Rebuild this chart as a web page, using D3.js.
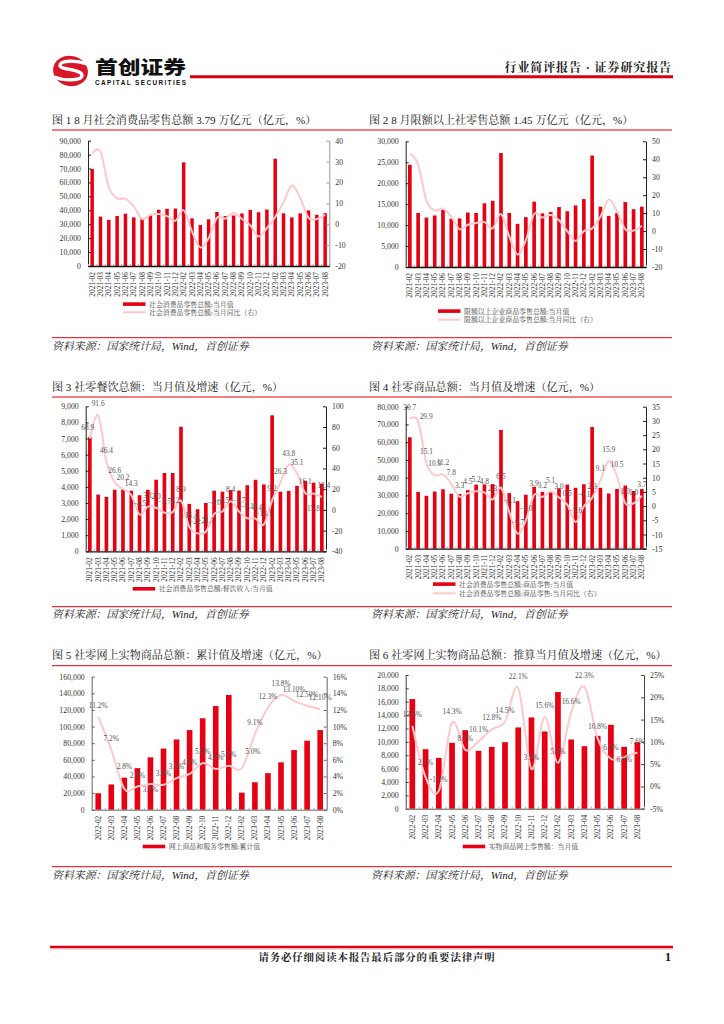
<!DOCTYPE html>
<html><head><meta charset="utf-8">
<script src="https://cdnjs.cloudflare.com/ajax/libs/d3/7.8.5/d3.min.js"></script>
<style>
html,body{margin:0;padding:0;background:#fff}
svg{display:block}
text{font-family:"Liberation Serif","Noto Serif CJK SC","Noto Sans CJK SC",serif}
</style></head><body>
<svg id="page" width="724" height="1024"></svg>
<script>
// ---------- categories ----------
const months29 = ["2021-02","2021-03","2021-04","2021-05","2021-06","2021-07","2021-08","2021-09","2021-10","2021-11","2021-12",
  "2022-02","2022-03","2022-04","2022-05","2022-06","2022-07","2022-08","2022-09","2022-10","2022-11","2022-12",
  "2023-02","2023-03","2023-04","2023-05","2023-06","2023-07","2023-08"];
const months18 = ["2022-02","2022-03","2022-04","2022-05","2022-06","2022-07","2022-08","2022-09","2022-10","2022-11","2022-12",
  "2023-02","2023-03","2023-04","2023-05","2023-06","2023-07","2023-08"];
// ---------- series ----------
const retailValue = [69737,35484,33153,35945,37586,34925,34395,36833,40454,41043,41269,74426,34233,29483,33547,38802,35870,36258,37745,40271,38615,40542,77067,37855,34910,37803,39951,36761,37933];
const retailYoY = [33.8,34.9,17.7,12.4,12.1,8.5,2.5,4.4,4.9,3.9,1.7,6.7,-3.5,-11.1,-6.7,3.1,2.7,5.4,2.5,-0.5,-5.9,-1.8,3.5,10.6,18.4,12.7,3.1,2.5,4.6];
const aboveValue = [24400,12900,11800,12300,13600,11500,11600,13000,12900,15200,15800,27200,12900,10300,11900,15600,12800,13100,14300,13300,14700,16200,26600,14400,12200,12900,15500,13800,14400];
const aboveYoY = [43,37,17,11.5,12.5,8,1,3.5,4.5,5,1.5,9.5,-3,-13,-5,9.5,7.5,9,6,0,-5.5,0,1.5,8,17.5,11,1,0.3,3];
const cateringValue = [7080,3520,3380,3820,3840,3760,3480,3820,4440,4860,4860,7730,2940,2610,3000,3760,3700,3800,3770,4100,4440,4150,8440,3700,3750,4060,4370,4260,4200];
const cateringYoY = [68.9,91.6,46.4,26.6,20.2,14.3,-4.5,3.1,2.0,-2.7,-2.2,8.9,-16.4,-22.7,-21.1,-4.0,-1.5,8.4,-1.7,-8.1,-8.4,-14.1,9.2,26.3,43.8,35.1,16.1,15.8,12.4];
const goodsValue = [62800,32000,29800,32200,33500,31000,30800,33000,36100,36200,36400,66900,31300,26800,30400,34900,32000,32500,34000,36100,34300,36300,68600,34300,31100,33700,35600,32500,33600];
const goodsYoY = [30.7,29.9,15.1,10.9,11.2,7.8,3.3,4.5,5.2,4.8,2.3,6.5,-2.1,-9.7,-5.0,3.9,3.2,5.1,3.0,0.5,-5.6,-0.1,2.9,9.1,15.9,10.5,1.0,1.0,3.7];
const onlineCum = [19800,30400,38500,50000,63000,73500,84500,95800,110000,124700,138000,20500,33000,44000,57000,71800,83000,95800];
const onlineCumYoY = [11.2,7.2,2.5,2.8,3.1,3.0,3.8,4.3,5.6,4.9,5.3,5.0,9.1,12.3,13.8,13.1,12.5,12.1];
const onlineCumLabels = ["11.2%","7.2%","2.8%","2.8%","3.1%","3.0%","3.8%","4.3%","5.6%","4.9%","5.3%","5.0%","9.1%","12.3%","13.8%","13.10%","12.50%","12.10%"];
const onlineMonth = [16400,8900,7600,9850,11750,8650,9250,9950,12150,13650,11550,17450,10350,9350,10900,12550,9250,9950];
const onlineMonthYoY = [13.6,2.1,-1.0,14.3,8.2,10.1,12.8,14.5,22.1,3.9,15.6,5.3,16.6,22.3,10.8,6.2,6.6,7.6];
const onlineMonthLabels = ["13.6%","2.1%","-1.0%","14.3%","8.2%","10.1%","12.8%","14.5%","22.1%","3.9%","15.6%","5.3%","16.6%","22.3%","10.8%","6.2%","6.6%","7.6%"];
// ---------- ticks ----------
const ticksL1 = d3.range(0,90001,10000), ticksR1 = d3.range(-20,41,10);
const ticksL2 = d3.range(0,30001,5000),  ticksR2 = d3.range(-20,51,10);
const ticksL3 = d3.range(0,9001,1000),   ticksR3 = d3.range(-40,101,20);
const ticksL4 = d3.range(0,80001,10000), ticksR4 = d3.range(-15,36,5);
const ticksL5 = d3.range(0,160001,20000),ticksR5 = d3.range(0,17,2);
const ticksL6 = d3.range(0,20001,2000),  ticksR6 = d3.range(-5,26,5);
// ---------- text ----------
const titles = ["图 1 8 月社会消费品零售总额 3.79 万亿元（亿元，%）","图 2 8 月限额以上社零售总额 1.45 万亿元（亿元，%）",
  "图 3 社零餐饮总额：当月值及增速（亿元，%）","图 4  社零商品总额：当月值及增速（亿元，%）",
  "图 5 社零网上实物商品总额：累计值及增速（亿元，%）","图 6 社零网上实物商品总额：推算当月值及增速（亿元，%）"];
const sourceText = "资料来源：国家统计局，Wind，首创证券";

const RED = "#e60012", PINK = "#ffc8cb", DARK = "#333";
const svg = d3.select("#page");
const fmt = d3.format(",");

// label nudges (chart index -> point index -> [dx,dy] from default placement)
const nudges = {
  2:{0:[-2,0],27:[0,26],28:[2,0]},
  3:{1:[8,7],27:[0,1]},
  4:{2:[0,-11],4:[0,17],11:[11,-5]},
  5:{1:[0,-3],16:[0,14]}
};
const fmtFixed = v => d3.format(".1f")(v);

function chart(o){
  const g = svg.append("g");
  const x = d3.scaleBand().domain(o.cats).range([o.l,o.r]).paddingInner(o.pad).paddingOuter(o.pad/2);
  const yL = d3.scaleLinear().domain(d3.extent(o.tL)).range([o.b,o.t]);
  const yR = d3.scaleLinear().domain(d3.extent(o.tR)).range([o.b,o.t]);
  // bars
  g.append("g").selectAll("rect").data(o.vals).join("rect")
    .attr("x",(d,i)=>x(o.cats[i])).attr("width",x.bandwidth())
    .attr("y",d=>yL(d)).attr("height",d=>o.b-yL(d)).attr("fill",RED);
  // line
  const line = d3.line().x((d,i)=>x(o.cats[i])+x.bandwidth()/2).y(d=>yR(d)).curve(d3.curveCardinal.tension(0));
  g.append("path").attr("d",line(o.yoy)).attr("fill","none").attr("stroke",PINK).attr("stroke-width",2);
  // axes
  const axC = o.axisColor||"#222";
  const yAxisL = d3.axisLeft(yL).tickValues(o.tL).tickSizeInner(-3).tickSizeOuter(0).tickPadding(7).tickFormat(fmt);
  const yAxisR = d3.axisRight(yR).tickValues(o.tR).tickSizeInner(-3).tickSizeOuter(0).tickPadding(6).tickFormat(o.rf||(d=>d));
  const aL = g.append("g").attr("transform",`translate(${o.l},0)`).call(yAxisL);
  const aR = g.append("g").attr("transform",`translate(${o.r},0)`).call(yAxisR);
  [aL,aR].forEach(a=>{
    a.selectAll("path,line").attr("stroke",o.rightGray&&a===aR?"#999":axC);
    a.selectAll("text").attr("font-size",7.8).attr("fill",DARK);
  });
  const xb = g.append("g").attr("transform",`translate(0,${o.b})`)
    .call(d3.axisBottom(x).tickSize(0).tickPadding(5));
  xb.select(".domain").remove();
  xb.selectAll("text").attr("font-size",7.4).attr("fill",DARK)
    .attr("text-anchor","end").attr("dy",null)
    .attr("transform","translate(2.5,6) rotate(-90)").attr("x",0).attr("y",0);
  const xBound = d3.scaleLinear().domain([0,o.cats.length]).range([o.l,o.r]);
  const xt = g.append("g").attr("transform",`translate(0,${o.b})`)
    .call(d3.axisBottom(xBound).tickValues(d3.range(o.cats.length+1)).tickSizeInner(-2).tickSizeOuter(0).tickFormat(""));
  xt.select(".domain").attr("stroke",o.xColor||"#111").attr("stroke-width",o.xWidth||1.3);
  xt.selectAll("line").attr("stroke","#aaa");
  // data labels
  if(o.labels){
    const n = nudges[o.idx]||{};
    g.append("g").selectAll("text").data(o.labels).join("text")
      .attr("x",(d,i)=>x(o.cats[i])+x.bandwidth()/2+((n[i]||[0,0])[0]))
      .attr("y",(d,i)=>yR(o.yoy[i])-11.5+((n[i]||[0,0])[1]))
      .attr("dy","0.35em").attr("text-anchor","middle")
      .attr("font-size",7.4).attr("fill","#555").text(d=>d);
  }
  // legend
  const lg = g.append("g");
  o.legend.forEach((t,i)=>{
    const yy = o.legY+i*o.legGap;
    if(i===0) lg.append("rect").attr("x",o.legX).attr("y",yy-2).attr("width",22.5).attr("height",3.6).attr("fill",RED);
    else lg.append("line").attr("x1",o.legX).attr("x2",o.legX+22.5).attr("y1",yy).attr("y2",yy).attr("stroke",PINK).attr("stroke-width",2);
    lg.append("text").attr("x",o.legX+26).attr("y",yy).attr("dy","0.35em").attr("font-size",6.9).attr("fill","#444").text(t);
  });
}

const pc = d=>d+"%";
chart({idx:0,cats:months29,vals:retailValue,yoy:retailYoY,tL:ticksL1,tR:ticksR1,l:88,r:329.3,t:140.7,b:266,pad:0.58,rightGray:true,
  legend:["社会消费品零售总额:当月值","社会消费品零售总额:当月同比（右）"],legX:123,legY:304.3,legGap:8});
chart({idx:1,cats:months29,vals:aboveValue,yoy:aboveYoY,tL:ticksL2,tR:ticksR2,l:405.7,r:646,t:141.3,b:267,pad:0.56,
  legend:["限额以上企业商品零售总额:当月值","限额以上企业商品零售总额:当月同比（右）"],legX:438,legY:311.3,legGap:8.4});
chart({idx:2,cats:months29,vals:cateringValue,yoy:cateringYoY,tL:ticksL3,tR:ticksR3,l:85.7,r:326,t:406.3,b:551.3,pad:0.56,
  labels:cateringYoY.map(fmtFixed),legend:["社会消费品零售总额:餐饮收入:当月值"],legX:132.7,legY:589,legGap:8});
chart({idx:3,cats:months29,vals:goodsValue,yoy:goodsYoY,tL:ticksL4,tR:ticksR4,l:405.7,r:646,t:406.7,b:548.7,pad:0.56,
  labels:goodsYoY.map(fmtFixed),legend:["社会消费品零售总额:商品零售:当月值","社会消费品零售总额:商品零售:当月同比（右）"],legX:433,legY:584.3,legGap:9});
chart({idx:4,cats:months18,vals:onlineCum,yoy:onlineCumYoY,tL:ticksL5,tR:ticksR5,l:91.7,r:326.7,t:676.7,b:809.7,pad:0.57,rf:pc,axisColor:"#666",xColor:"#666",xWidth:1,
  labels:onlineCumLabels,legend:["网上商品和服务零售额:累计值"],legX:142.7,legY:846.7,legGap:8});
chart({idx:5,cats:months18,vals:onlineMonth,yoy:onlineMonthYoY,tL:ticksL6,tR:ticksR6,l:405.7,r:644,t:675,b:808.7,pad:0.57,rf:pc,axisColor:"#444",xColor:"#555",xWidth:1,
  labels:onlineMonthLabels,legend:["实物商品网上零售额：当月值"],legX:462.7,legY:846.7,legGap:8});

// ---------- page furniture ----------
function rule(x1,x2,y,w,c){svg.append("line").attr("x1",x1).attr("x2",x2).attr("y1",y).attr("y2",y).attr("stroke",c).attr("stroke-width",w);}
[130,397,665.7].forEach(y=>rule(52,672,y,1,RED));
[337.7,606.7,866.7].forEach(y=>rule(52,672,y,1,RED));
const titleX=[52,369,52,369,52,369], titleY=[120,120,387,387,655,655];
titles.forEach((t,i)=>svg.append("text").attr("x",titleX[i]).attr("y",titleY[i]).attr("dy","0.35em")
  .attr("font-size",11.1).attr("fill","#222").text(t));
[346.5,614,875].forEach(y=>[52,371].forEach(x=>svg.append("text").attr("x",x).attr("y",y).attr("dy","0.35em")
  .attr("font-size",10.9).attr("font-style","italic").attr("fill","#222").text(sourceText)));

// header
rule(190,673,76.7,3,"#d9000f");
svg.append("text").attr("x",672).attr("y",68).attr("dy","0.35em").attr("text-anchor","end")
  .attr("font-size",12).attr("font-weight",700).attr("letter-spacing",0.9).attr("fill","#222").text("行业简评报告 · 证券研究报告");
// logo
const logo=svg.append("g");
logo.append("ellipse").attr("cx",70.5).attr("cy",71).attr("rx",17.5).attr("ry",15).attr("transform","rotate(12 70.5 71)").attr("fill","#d7182a");
logo.append("path").attr("d","M87 64 C76 60 60 60 60 65.5 C60 70 82 69 82 75.5 C82 81 64 81 54 77").attr("fill","none").attr("stroke","#fff").attr("stroke-width",3.4);
svg.append("text").attr("x",95).attr("y",68).attr("dy","0.35em").attr("font-size",18).attr("font-weight",900)
  .attr("textLength",91).attr("lengthAdjust","spacingAndGlyphs")
  .style("font-family",'"Noto Sans CJK SC",sans-serif').attr("fill","#111").text("首创证券");
svg.append("text").attr("x",95).attr("y",83).attr("dy","0.35em").attr("font-size",6.4).attr("font-weight",700).attr("textLength",91)
  .style("font-family",'"Liberation Sans",sans-serif').attr("fill","#111").text("CAPITAL SECURITIES");
// footer
rule(50,673,947,2.6,"#e3000f");
rule(50,673,949,1,"#f6b8bb");
svg.append("text").attr("x",377).attr("y",957).attr("dy","0.35em").attr("text-anchor","middle")
  .attr("font-size",10.4).attr("font-weight",700).attr("letter-spacing",0.9).attr("fill","#222").text("请务必仔细阅读本报告最后部分的重要法律声明");
svg.append("text").attr("x",668).attr("y",957).attr("dy","0.35em").attr("text-anchor","middle")
  .attr("font-size",12).attr("font-weight",700).attr("fill","#111").text("1");
</script>
</body></html>
